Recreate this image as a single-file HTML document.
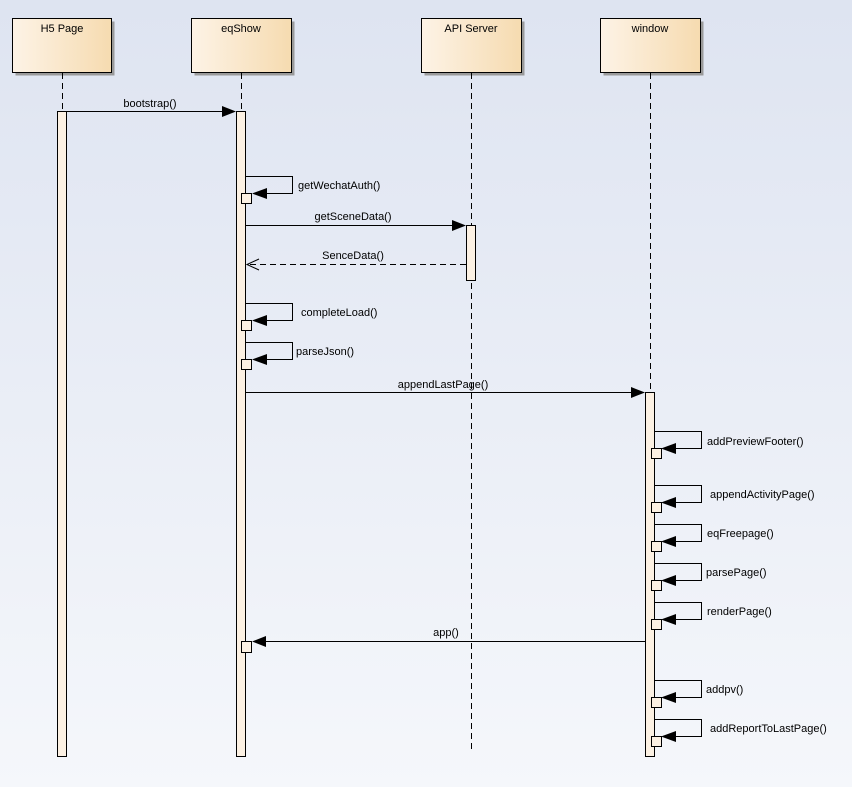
<!DOCTYPE html>
<html><head><meta charset="utf-8"><style>
html,body{margin:0;padding:0;width:852px;height:787px;overflow:hidden}
svg{display:block}
text{font-family:"Liberation Sans",sans-serif;font-size:11px;fill:#000}
</style></head><body>
<svg width="852" height="787" viewBox="0 0 852 787" xmlns="http://www.w3.org/2000/svg">
<defs>
<linearGradient id="bg" x1="0" y1="0" x2="0" y2="1"><stop offset="0" stop-color="#dee4f1"/><stop offset="1" stop-color="#f5f7fb"/></linearGradient>
<linearGradient id="hd" x1="0" y1="0" x2="1" y2="0"><stop offset="0" stop-color="#fdf3e6"/><stop offset="1" stop-color="#f6dbb0"/></linearGradient>
</defs>
<rect width="852" height="787" fill="url(#bg)"/>
<g stroke="#000" stroke-width="1" fill="none">
<!-- headers -->
<rect x="15.5" y="21.5" width="99" height="54" fill="#9a9a9a" stroke="none"/>
<rect x="194.5" y="21.5" width="100" height="54" fill="#9a9a9a" stroke="none"/>
<rect x="424.5" y="21.5" width="100" height="54" fill="#9a9a9a" stroke="none"/>
<rect x="603.5" y="21.5" width="100" height="54" fill="#9a9a9a" stroke="none"/>
<rect x="12.5" y="18.5" width="99" height="54" fill="url(#hd)"/>
<rect x="191.5" y="18.5" width="100" height="54" fill="url(#hd)"/>
<rect x="421.5" y="18.5" width="100" height="54" fill="url(#hd)"/>
<rect x="600.5" y="18.5" width="100" height="54" fill="url(#hd)"/>
<!-- lifelines -->
<g stroke-dasharray="6,4">
<line x1="62.5" y1="73" x2="62.5" y2="111"/>
<line x1="241.5" y1="73" x2="241.5" y2="111"/>
<line x1="471.5" y1="73" x2="471.5" y2="750"/>
<line x1="650.5" y1="73" x2="650.5" y2="392"/>
</g>
<!-- activations -->
<g fill="#fcf1e3">
<rect x="57.5" y="111.5" width="9" height="645"/>
<rect x="236.5" y="111.5" width="9" height="645"/>
<rect x="466.5" y="225.5" width="9" height="55"/>
<rect x="645.5" y="392.5" width="9" height="364"/>
</g>
<!-- messages -->
<line x1="67" y1="111.5" x2="224" y2="111.5"/>
<line x1="246" y1="225.5" x2="454" y2="225.5"/>
<line x1="466" y1="264.5" x2="247" y2="264.5" stroke-dasharray="6,4"/>
<polyline points="259,259 247,264.5 259,270"/>
<line x1="246" y1="392.5" x2="633" y2="392.5"/>
<line x1="645" y1="641.5" x2="262" y2="641.5"/>
</g>
<g fill="#000">
<polygon points="236,111.5 222,106 222,117"/>
<polygon points="466,225.5 452,220 452,231"/>
<polygon points="645,392.5 631,387 631,398"/>
<polygon points="252,641.5 266,636 266,647"/>
</g>
<rect x="241.5" y="641.5" width="10" height="11" fill="#fcf1e3" stroke="#000"/>
<!-- self loops eqShow -->
<g stroke="#000" fill="none">
<polyline points="246,176.5 292.5,176.5 292.5,193.5 262,193.5"/>
<polyline points="246,303.5 292.5,303.5 292.5,320.5 262,320.5"/>
<polyline points="246,342.5 292.5,342.5 292.5,359.5 262,359.5"/>
<polyline points="655,431.5 701.5,431.5 701.5,448.5 671,448.5"/>
<polyline points="655,485.5 701.5,485.5 701.5,502.5 671,502.5"/>
<polyline points="655,524.5 701.5,524.5 701.5,541.5 671,541.5"/>
<polyline points="655,563.5 701.5,563.5 701.5,580.5 671,580.5"/>
<polyline points="655,602.5 701.5,602.5 701.5,619.5 671,619.5"/>
<polyline points="655,680.5 701.5,680.5 701.5,697.5 671,697.5"/>
<polyline points="655,719.5 701.5,719.5 701.5,736.5 671,736.5"/>
</g>
<g fill="#000">
<polygon points="252,193.5 267,188 267,199"/>
<polygon points="252,320.5 267,315 267,326"/>
<polygon points="252,359.5 267,354 267,365"/>
<polygon points="661,448.5 676,443 676,454"/>
<polygon points="661,502.5 676,497 676,508"/>
<polygon points="661,541.5 676,536 676,547"/>
<polygon points="661,580.5 676,575 676,586"/>
<polygon points="661,619.5 676,614 676,625"/>
<polygon points="661,697.5 676,692 676,703"/>
<polygon points="661,736.5 676,731 676,742"/>
</g>
<g fill="#fcf1e3" stroke="#000">
<rect x="241.5" y="193.5" width="10" height="10"/>
<rect x="241.5" y="320.5" width="10" height="10"/>
<rect x="241.5" y="359.5" width="10" height="10"/>
<rect x="651.5" y="448.5" width="10" height="10"/>
<rect x="651.5" y="502.5" width="10" height="10"/>
<rect x="651.5" y="541.5" width="10" height="10"/>
<rect x="651.5" y="580.5" width="10" height="10"/>
<rect x="651.5" y="619.5" width="10" height="10"/>
<rect x="651.5" y="697.5" width="10" height="10"/>
<rect x="651.5" y="736.5" width="10" height="10"/>
</g>
<!-- labels -->
<g text-anchor="middle">
<text x="62" y="32">H5 Page</text>
<text x="241" y="32">eqShow</text>
<text x="471" y="32">API Server</text>
<text x="650" y="32">window</text>
<text x="150" y="107">bootstrap()</text>
<text x="353" y="220">getSceneData()</text>
<text x="353" y="259">SenceData()</text>
<text x="443" y="388">appendLastPage()</text>
<text x="446" y="636">app()</text>
</g>
<text x="298" y="189">getWechatAuth()</text>
<text x="301" y="316">completeLoad()</text>
<text x="296" y="355">parseJson()</text>
<text x="707" y="445">addPreviewFooter()</text>
<text x="710" y="498">appendActivityPage()</text>
<text x="707" y="537">eqFreepage()</text>
<text x="706" y="576">parsePage()</text>
<text x="707" y="615">renderPage()</text>
<text x="706" y="693">addpv()</text>
<text x="710" y="732">addReportToLastPage()</text>
</svg>
</body></html>
